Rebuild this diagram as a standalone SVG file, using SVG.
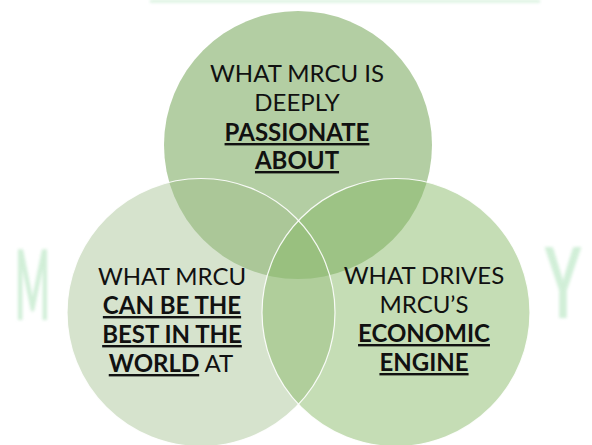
<svg xmlns="http://www.w3.org/2000/svg" width="592" height="445" viewBox="0 0 592 445">
  <defs>
    <filter id="soft" x="-20%" y="-20%" width="140%" height="140%">
      <feGaussianBlur stdDeviation="1.6"/>
    </filter>
    <style>
      .rim { fill: none; stroke: #ffffff; stroke-width: 1.2; stroke-opacity: 0.9; }
      .lbl { font-family: Lato, "Open Sans", "Liberation Sans", sans-serif; font-size: 24px; fill: #111111; text-anchor: middle; }
      .em { font-weight: 700; text-decoration: underline; }
      .mark { font-family: Lato, "Liberation Sans", sans-serif; font-weight: 700; font-size: 97px; fill: #c9ecd1; }
    </style>
  </defs>

  <rect width="592" height="445" fill="#ffffff"/>

  <!-- faint backdrop lettering -->
  <g id="backdrop" filter="url(#soft)" opacity="0.85">
    <rect x="150" y="0" width="390" height="2.5" fill="#cdeed5"/>
    <text class="mark" x="15" y="320" textLength="35" lengthAdjust="spacingAndGlyphs">M</text>
    <text class="mark" x="545" y="318" textLength="36" lengthAdjust="spacingAndGlyphs">Y</text>
  </g>

  <!-- circle fills: passion underneath, then best, then engine -->
  <g id="circle-passion">
    <circle cx="298" cy="145" r="134" fill="#b3cea3"/>
  </g>
  <g id="circle-best">
    <circle cx="201" cy="312.5" r="134" fill="#a0be8b" fill-opacity="0.43"/>
  </g>
  <g id="circle-engine">
    <circle cx="396" cy="312.5" r="134" fill="#86b865" fill-opacity="0.48"/>
  </g>

  <!-- white rims on the two lower circles -->
  <g id="outlines">
    <circle class="rim" cx="201" cy="312.5" r="134"/>
    <circle class="rim" cx="396" cy="312.5" r="134"/>
  </g>

  <!-- labels -->
  <g id="label-passion">
    <text class="lbl" x="297" y="82">WHAT MRCU IS</text>
    <text class="lbl" x="297" y="111">DEEPLY</text>
    <text class="lbl" x="297" y="141"><tspan class="em">PASSIONATE</tspan></text>
    <text class="lbl" x="297" y="169"><tspan class="em">ABOUT</tspan></text>
  </g>
  <g id="label-best">
    <text class="lbl" x="172" y="285">WHAT MRCU</text>
    <text class="lbl" x="172" y="314"><tspan class="em">CAN BE THE</tspan></text>
    <text class="lbl" x="172" y="343"><tspan class="em">BEST IN THE</tspan></text>
    <text class="lbl" x="171" y="372"><tspan class="em">WORLD</tspan> AT</text>
  </g>
  <g id="label-engine">
    <text class="lbl" x="424" y="284">WHAT DRIVES</text>
    <text class="lbl" x="424" y="313">MRCU’S</text>
    <text class="lbl" x="424" y="342"><tspan class="em">ECONOMIC</tspan></text>
    <text class="lbl" x="424" y="371"><tspan class="em">ENGINE</tspan></text>
  </g>
</svg>
